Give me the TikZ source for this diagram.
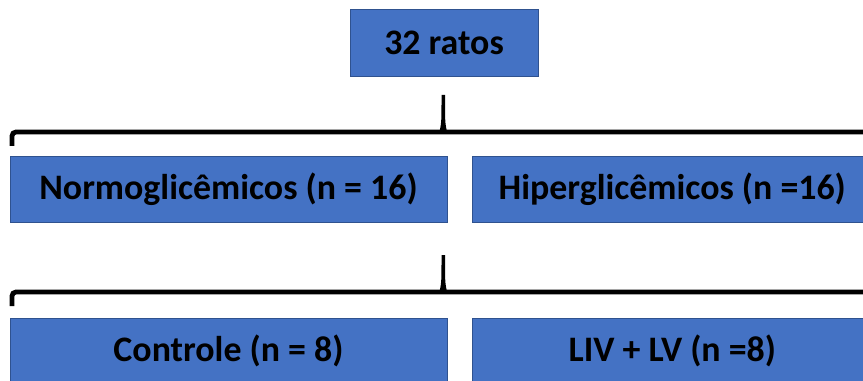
\documentclass[tikz,border=0pt]{standalone}
\usepackage{fontspec}
\setmainfont{Carlito}
\usetikzlibrary{positioning}
\usepackage{xcolor}
\definecolor{boxblue}{HTML}{4472C4}
\definecolor{boxline}{HTML}{2F528F}

\begin{document}
\begin{tikzpicture}[x=0.75pt, y=-0.75pt,
  grpbox/.style={draw=boxline, line width=0.6pt, fill=boxblue, inner sep=0pt, text=black,
    minimum height=49.5pt, font=\bfseries\fontsize{26.9}{30}\selectfont},
  brace/.style={line width=3.6pt, rounded corners=3pt}]
\useasboundingbox (0,0) rectangle (863,381);
\clip (0,0) rectangle (863,381);

%boxes
\node[grpbox, minimum width=141pt, minimum height=50.25pt] (ratos) at (444,42.5) {32 ratos};
\node[grpbox, minimum width=327.75pt] (normo) at (228.5,189) {Normoglicêmicos (n = 16)};
\node[grpbox, minimum width=299.25pt, right=18.75pt of normo] (hiper) {Hiperglicêmicos (n =16)};
\node[grpbox, minimum width=327.75pt] (controle) at (228.5,351) {Controle (n = 8)};
\node[grpbox, minimum width=299.25pt, right=18.75pt of controle] (liv) {LIV + LV (n =8)};

%'brace' coordinates
\coordinate (b1l) at (12,146); \coordinate (b1m) at (443,132); \coordinate (b1r) at (890,146);
\coordinate (b2l) at (12,306); \coordinate (b2m) at (443,292); \coordinate (b2r) at (890,306);
%draw upper brace
\draw[brace] (b1l) -- (b1l |- b1m) -- (b1r |- b1m) -- (b1r);
\fill (439.5,132) .. controls (441.5,122) .. (441.5,95) -- (445,95) .. controls (445,122) .. (447,132) -- cycle;
%draw lower brace
\draw[brace] (b2l) -- (b2l |- b2m) -- (b2r |- b2m) -- (b2r);
\fill (439.5,292) .. controls (441.5,282) .. (441.5,255) -- (445,255) .. controls (445,282) .. (447,292) -- cycle;
\end{tikzpicture}
\end{document}
